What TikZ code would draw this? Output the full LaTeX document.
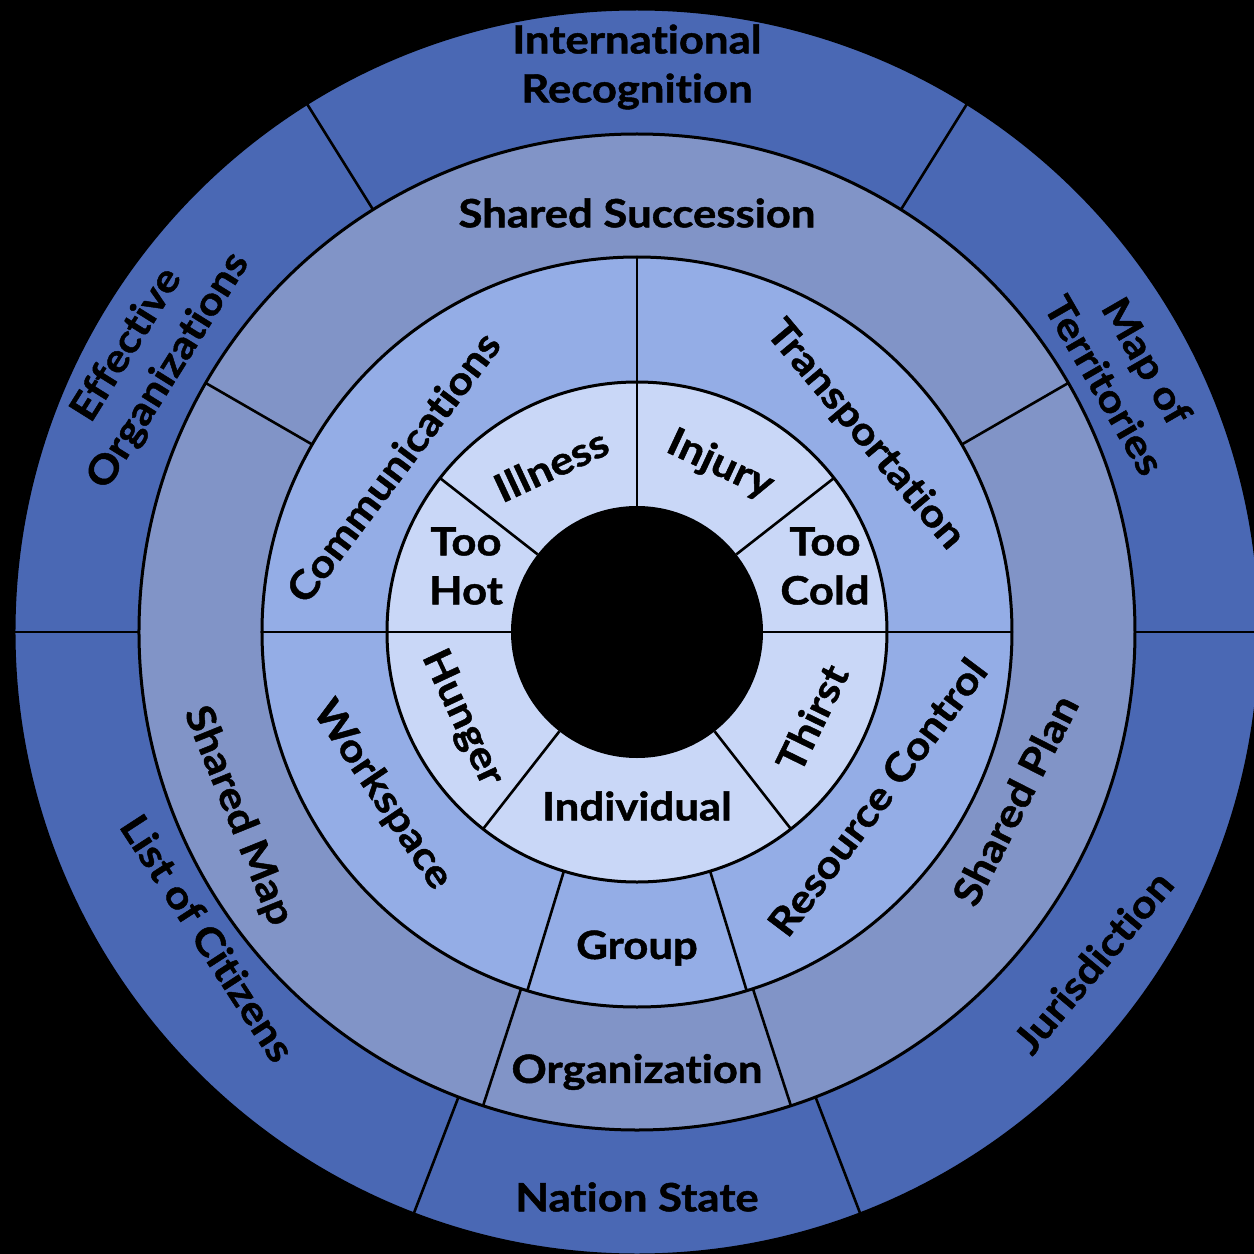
\documentclass[tikz,border=0pt]{standalone}
\usepackage{fontspec}
\setmainfont{Lato}[Ligatures=NoCommon, BoldFeatures={FakeBold=1.2, FakeStretch=1.12}]
\definecolor{outerblue}{HTML}{4A68B4}
\definecolor{ringgray}{HTML}{8194C7}
\definecolor{ringblue}{HTML}{94ADE6}
\definecolor{ringpale}{HTML}{C9D7F7}

\begin{document}
\begin{tikzpicture}[x=1pt,y=1pt,
    ring/.style={draw=black, line width=3pt},
    spoke/.style={draw=black, line width=2.6pt},
    lbl/.style={font=\bfseries\fontsize{39}{49}\selectfont, align=center, text=black, inner sep=0pt}]
        % Background
        \fill[black] (-637,-622) rectangle (617,632);
        \useasboundingbox (-637,-622) rectangle (617,632);

        % Rings
        \draw[ring, fill=outerblue] (0,0) circle (623);
        \draw[ring, fill=ringgray] (0,0) circle (498);
        \draw[ring, fill=ringblue] (0,0) circle (375);
        \draw[ring, fill=ringpale] (0,0) circle (250);
        \fill[black] (0,0) circle (126);

        % Spokes
        \foreach \a in {58,122,180,249,291,360}
            \draw[spoke] (\a:498) -- (\a:623);
        \foreach \a in {30,150,252,288}
            \draw[spoke] (\a:375) -- (\a:498);
        \foreach \a in {0,90,180,253,287}
            \draw[spoke] (\a:250) -- (\a:375);
        \foreach \a in {0,38,90,142,180,232,308}
            \draw[spoke] (\a:126) -- (\a:250);

        % Outer ring
        \node[lbl] (intl) at (0,565) {International\\Recognition};
        \node[lbl, rotate=58] (effect) at (-489,274) {Effective\\Organizations};
        \node[lbl, rotate=-60] (terr) at (489,259) {Map of\\Territories};
        \node[lbl, rotate=-57] (citiz) at (-429,-306) {List of Citizens};
        \node[lbl] (nation) at (0,-565) {Nation State};
        \node[lbl, rotate=50] (juris) at (456,-330) {Jurisdiction};

        % Third ring
        \node[lbl] (succ) at (0,419) {Shared Succession};
        \node[lbl, rotate=-68] (smap) at (-399,-184) {Shared Map};
        \node[lbl] (org) at (0,-440) {Organization};
        \node[lbl, rotate=63] (splan) at (378,-168) {Shared Plan};

        % Second ring
        \node[lbl, rotate=53] (comm) at (-244,165) {Communications};
        \node[lbl, rotate=-50] (trans) at (228,197) {Transportation};
        \node[lbl, rotate=-56] (work) at (-255,-163) {Workspace};
        \node[lbl] (group) at (0,-316) {Group};
        \node[lbl, rotate=53] (res) at (240,-165) {Resource Control};

        % Inner ring
        \node[lbl] (hot) at (-171,66) {Too\\Hot};
        \node[lbl, rotate=25] (ill) at (-86,167) {Illness};
        \node[lbl, rotate=-25] (inj) at (83,167) {Injury};
        \node[lbl] (cold) at (188,66) {Too\\Cold};
        \node[lbl, rotate=64] (thirst) at (175,-86) {Thirst};
        \node[lbl] (indiv) at (0,-174) {Individual};
        \node[lbl, rotate=-65] (hunger) at (-175,-86) {Hunger};
\end{tikzpicture}
\end{document}
